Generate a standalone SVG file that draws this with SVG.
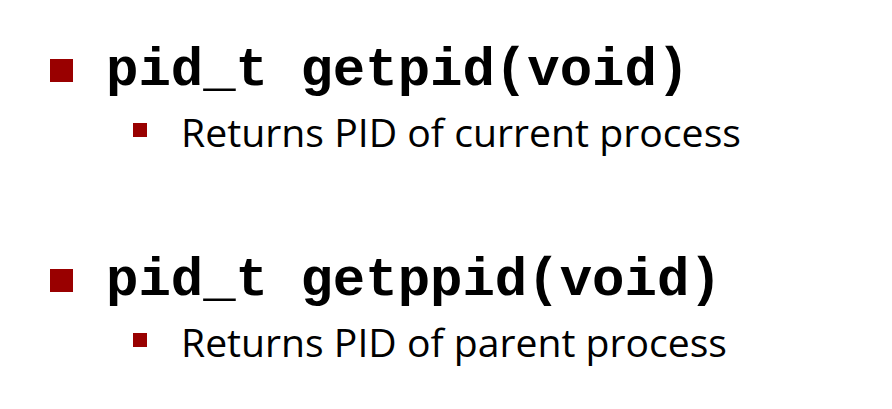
<svg xmlns="http://www.w3.org/2000/svg" width="892" height="409" viewBox="0 0 892 409">
<style>
.b{fill:#990000}
.code{font-family:"Liberation Mono","Courier New",monospace;font-weight:bold;font-size:54px;fill:#000}
.sub{font-family:"Open Sans","Liberation Sans",sans-serif;font-size:38px;fill:#000}
</style>
<rect width="892" height="409" fill="#fff"/>
<g id="item1">
<rect class="b" x="50" y="59" width="23" height="23"/>
<text class="code" x="106" y="85">pid_t getpid(void)</text>
</g>
<g id="item1-sub">
<rect class="b" x="133" y="123" width="14" height="14"/>
<text class="sub" x="181" y="147" textLength="560" lengthAdjust="spacingAndGlyphs">Returns PID of current process</text>
</g>
<g id="item2">
<rect class="b" x="50" y="269" width="23" height="23"/>
<text class="code" x="106" y="295">pid_t getppid(void)</text>
</g>
<g id="item2-sub">
<rect class="b" x="133" y="333" width="14" height="14"/>
<text class="sub" x="181" y="357" textLength="546" lengthAdjust="spacingAndGlyphs">Returns PID of parent process</text>
</g>
</svg>
